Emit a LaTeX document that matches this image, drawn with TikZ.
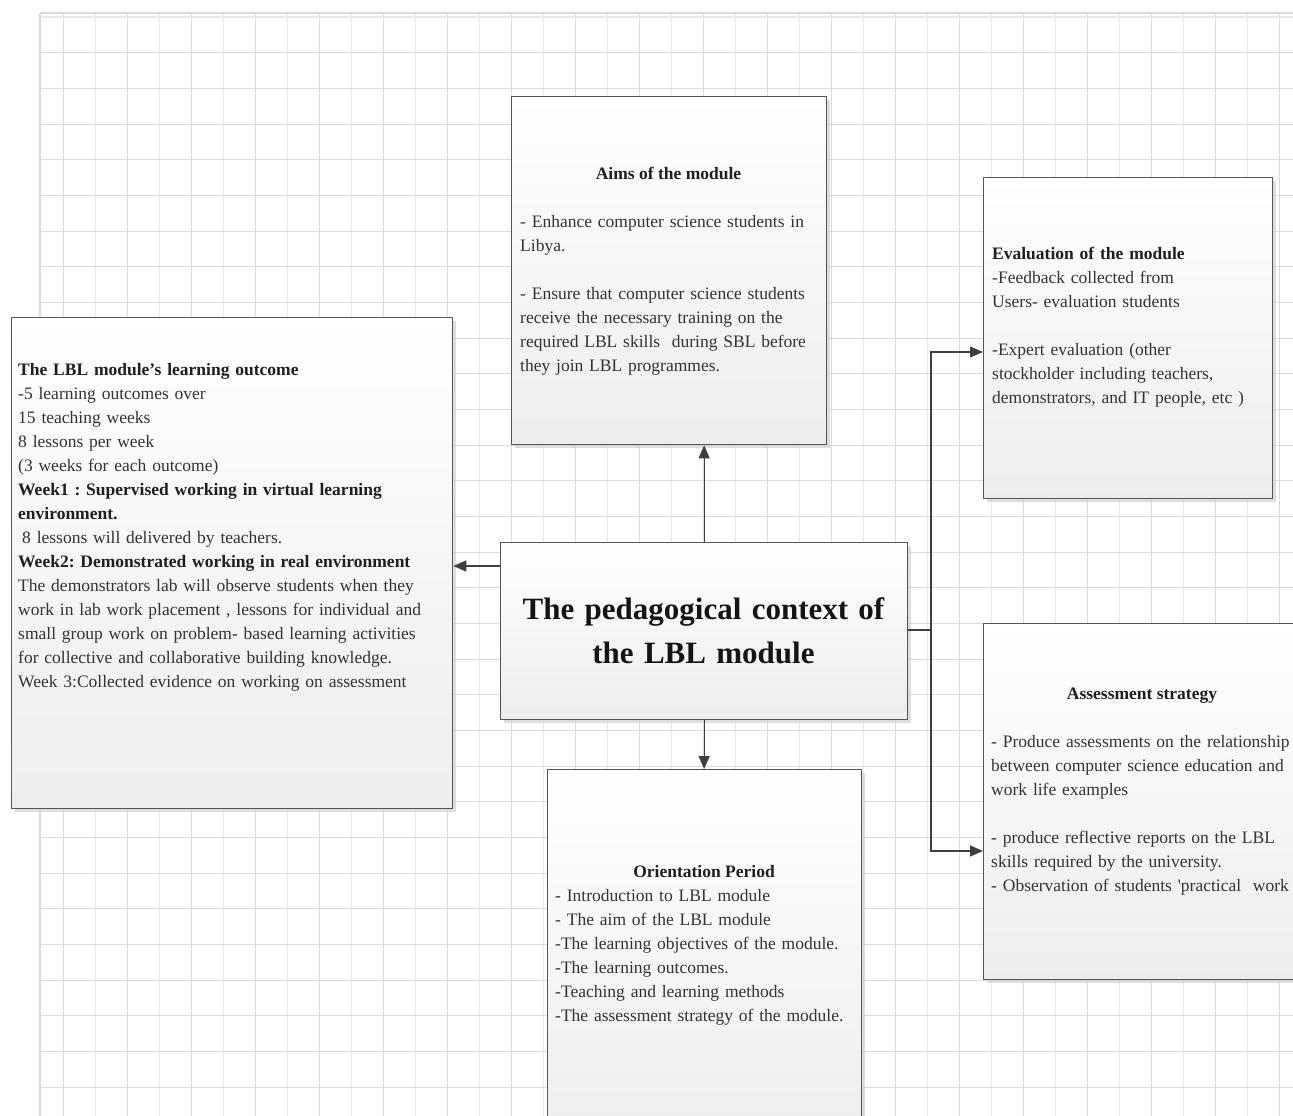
\documentclass[tikz,border=0pt]{standalone}
\usepackage{fontspec}
\setmainfont{Liberation Serif}
\usetikzlibrary{arrows.meta,shadows}
\definecolor{gridA}{HTML}{DADADA}
\definecolor{gridB}{HTML}{E8E8E8}
\definecolor{edge}{HTML}{555555}
\definecolor{txt}{HTML}{333333}
\definecolor{conn}{HTML}{3F3F3F}
\frenchspacing
\begin{document}
\frenchspacing
\begin{tikzpicture}[x=1pt,y=-1pt,
  boxstyle/.style={rectangle, draw=edge, line width=1.3pt, top color=white, bottom color=black!7, inner sep=0pt, anchor=north west,
    drop shadow={shadow xshift=3pt, shadow yshift=-3pt, fill=black!18, opacity=0.7}},
  ttl/.style={font=\fontsize{17.5}{24}\selectfont\bfseries\frenchspacing, text=black!88, inner sep=0pt, anchor=base},
  body/.style={font=\fontsize{17.5}{24}\selectfont\frenchspacing, text=txt, inner sep=0pt, anchor=base west, align=left, text width=440pt},
  link/.style={draw=conn, line width=1.3pt},
  arrowlink/.style={link, -{Triangle[length=13pt,width=11pt]}}
]
\clip (0,0) rectangle (1293,1116);
\fill[white] (0,0) rectangle (1293,1116);
% grid
\foreach \x in {63,127,...,1290} \draw[gridA, line width=1pt] (\x,13) -- (\x,1116);
\foreach \x in {95,159,...,1290} \draw[gridB, line width=1pt] (\x,13) -- (\x,1116);
\foreach \k in {0,...,29} \draw[gridA, line width=1pt] (40,53+35.66*\k) -- (1293,53+35.66*\k);
\draw[gridA, line width=1.2pt] (40,13) -- (1293,13);
\draw[gridB, line width=1.2pt] (40,17) -- (1293,17);
\draw[gridA, line width=2pt] (40,13) -- (40,1116);

% boxes
\node[boxstyle, minimum width=315pt, minimum height=348pt] (aims) at (511,96) {};
\node[boxstyle, minimum width=289pt, minimum height=321pt] (eval) at (983,177) {};
\node[boxstyle, minimum width=441pt, minimum height=491pt] (outcome) at (11,317) {};
\node[boxstyle, minimum width=407pt, minimum height=177pt] (central) at (500,542) {};
\node[boxstyle, minimum width=314pt, minimum height=370pt] (orient) at (547,769) {};
\node[boxstyle, minimum width=318pt, minimum height=356pt] (assess) at (983,623) {};

% texts
\node[ttl] (aimsT) at (668.5,179) {Aims of the module};
\node[body, text width=300pt] (aimsB) at (520,227) {- Enhance computer science students in\\Libya.\\[24pt]- Ensure that computer science students\\receive the necessary training on the\\required LBL skills\ \ during SBL before\\they join LBL programmes.};

\node[body, text width=280pt] (evalB) at (992,259) {\textbf{\color{black!88}Evaluation of the module}\\-Feedback collected from\\Users- evaluation students\\[24pt]-Expert evaluation (other\\stockholder including teachers,\\demonstrators, and IT people, etc )};

\node[body, text width=430pt] (outB) at (18,375) {\textbf{\color{black!88}The LBL module’s learning outcome}\\-5 learning outcomes over\\15 teaching weeks\\8 lessons per week\\(3 weeks for each outcome)\\\textbf{\color{black!88}Week1 : Supervised working in virtual learning}\\\textbf{\color{black!88}environment.}\\\hspace*{4pt}8 lessons will delivered by teachers.\\\textbf{\color{black!88}Week2: Demonstrated working in real environment}\\The demonstrators lab will observe students when they\\work in lab work placement , lessons for individual and\\small group work on problem- based learning activities\\for collective and collaborative building knowledge.\\Week 3:Collected evidence on working on assessment};

\node[inner sep=0pt, anchor=base, align=center, text width=400pt, font=\fontsize{31}{44}\selectfont\bfseries, text=black!92] (centralT) at (703.5,619) {The pedagogical context of\\the LBL module};

\node[ttl] (orientT) at (704,877) {Orientation Period};
\node[body, text width=300pt] (orientB) at (555,901) {- Introduction to LBL module\\- The aim of the LBL module\\-The learning objectives of the module.\\-The learning outcomes.\\-Teaching and learning methods\\-The assessment strategy of the module.};

\node[ttl] (assessT) at (1142,699) {Assessment strategy};
\node[body, text width=330pt] (assessB) at (991,747) {- Produce assessments on the relationship\\between computer science education and\\work life examples\\[24pt]- produce reflective reports on the LBL\\skills required by the university.\\- Observation of students \textquotesingle practical\ \ work};

% connectors
\coordinate (leftj) at (500,566);
\coordinate (trunk) at (931,630);
\coordinate (evalin) at (983,352);
\coordinate (assessin) at (983,851);
\draw[arrowlink] (central.north) -- (aims.south -| central.north);
\draw[arrowlink] (central.south) -- (orient.north -| central.south);
\draw[arrowlink] (leftj) -- (outcome.east |- leftj);
\draw[link] (central.east |- trunk) -- (trunk);
\draw[arrowlink] (trunk) |- (evalin);
\draw[arrowlink] (trunk) |- (assessin);
\end{tikzpicture}
\end{document}
